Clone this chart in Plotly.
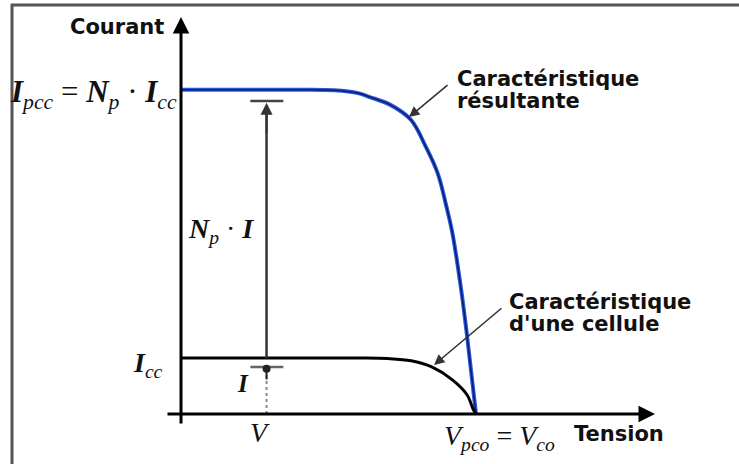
import plotly.graph_objects as go

# I-V characteristics: one cell versus Np cells in parallel (arbitrary units)
V_CO = 1.0          # open-circuit voltage (same for the array)
I_CC = 1.0          # short-circuit current of one cell
I_PCC = 5.79        # short-circuit current of the parallel array
V_OP = 0.29         # operating voltage V
I_OP = 0.84         # cell current I at V
NP_I = 5.59         # array current Np*I at V

# resulting characteristic (Np cells in parallel)
res_v = [0.0, 0.40, 0.52, 0.60, 0.64, 0.71, 0.78, 0.83, 0.87, 0.90, 0.92, 0.95, 0.97, 1.0]
res_i = [5.79, 5.79, 5.78, 5.73, 5.66, 5.52, 5.25, 4.77, 4.30, 3.70, 3.23, 2.21, 1.38, 0.0]

# single cell characteristic
cell_v = [0.0, 0.60, 0.70, 0.78, 0.85, 0.92, 0.97, 0.99, 1.0]
cell_i = [1.0, 1.0, 0.99, 0.95, 0.84, 0.61, 0.34, 0.09, 0.0]

W, H = 739, 464
X0, PXV = 181, 295      # pixel of V=0, pixels per volt unit
Y0, PXI = 414, 56       # pixel of I=0, pixels per current unit


def px(x):
    return x / W


def py(y):
    return 1 - y / H


SANS = "DejaVu Sans"
SERIF = "Liberation Serif"

fig = go.Figure()

fig.add_trace(go.Scatter(x=res_v, y=res_i, mode="lines", line_shape="spline",
                         line=dict(color="#2a5ae0", width=4), hoverinfo="skip"))
fig.add_trace(go.Scatter(x=res_v, y=res_i, mode="lines", line_shape="spline",
                         line=dict(color="#0c1c70", width=1.6), hoverinfo="skip"))
fig.add_trace(go.Scatter(x=cell_v, y=cell_i, mode="lines", line_shape="spline",
                         line=dict(color="black", width=3), hoverinfo="skip"))

shapes = [
    # open frame (left and top edges)
    dict(type="line", xref="paper", yref="paper", x0=px(12), x1=px(12), y0=py(4), y1=0,
         line=dict(color="#555", width=3)),
    dict(type="line", xref="paper", yref="paper", x0=px(11), x1=1, y0=py(5), y1=py(5),
         line=dict(color="#555", width=3)),
    # Np*I marker
    dict(type="line", xref="x", yref="y", x0=V_OP, x1=V_OP, y0=I_CC, y1=NP_I - 0.1,
         line=dict(color="#333", width=2.5)),
    dict(type="line", xref="x", yref="y", x0=V_OP - 0.055, x1=V_OP + 0.057, y0=NP_I, y1=NP_I,
         line=dict(color="#444", width=2.5)),
    # I marker
    dict(type="line", xref="x", yref="y", x0=V_OP, x1=V_OP, y0=0, y1=I_OP - 0.1,
         line=dict(color="#888", width=2, dash="dot")),
    dict(type="line", xref="x", yref="y", x0=V_OP - 0.055, x1=V_OP + 0.057, y0=I_OP, y1=I_OP,
         line=dict(color="#666", width=2.5)),
]

ann = []
# axes with arrowheads
ann.append(dict(x=0, y=(Y0 - 17) / PXI, ax=0, ay=(Y0 - 425) / PXI, xref="x", yref="y",
                axref="x", ayref="y", text="", showarrow=True, arrowhead=2,
                arrowsize=1.1, arrowwidth=3, arrowcolor="black", standoff=0))
ann.append(dict(x=(655 - X0) / PXV, y=0, ax=(166 - X0) / PXV, ay=0, xref="x", yref="y",
                axref="x", ayref="y", text="", showarrow=True, arrowhead=2,
                arrowsize=1.1, arrowwidth=3, arrowcolor="black", standoff=0))
# Np*I and I arrowheads
ann.append(dict(x=V_OP, y=NP_I - 0.03, ax=V_OP, ay=NP_I - 0.6, xref="x", yref="y",
                axref="x", ayref="y", text="", showarrow=True, arrowhead=2,
                arrowsize=1.2, arrowwidth=2, arrowcolor="#333", standoff=0))
ann.append(dict(x=V_OP, y=I_OP - 0.03, ax=V_OP, ay=I_OP - 0.25, xref="x", yref="y",
                axref="x", ayref="y", text="", showarrow=True, arrowhead=6,
                arrowsize=1.0, arrowwidth=2, arrowcolor="#222", standoff=0))
# callout arrows
ann.append(dict(x=(409 - X0) / PXV, y=(Y0 - 117) / PXI, ax=(449 - X0) / PXV,
                ay=(Y0 - 84) / PXI, xref="x", yref="y", axref="x", ayref="y", text="",
                showarrow=True, arrowhead=2, arrowsize=1.3, arrowwidth=1.6,
                arrowcolor="#333", standoff=0))
ann.append(dict(x=(434 - X0) / PXV, y=(Y0 - 365) / PXI, ax=(503 - X0) / PXV,
                ay=(Y0 - 307) / PXI, xref="x", yref="y", axref="x", ayref="y", text="",
                showarrow=True, arrowhead=2, arrowsize=1.3, arrowwidth=1.6,
                arrowcolor="#333", standoff=0))

bold = dict(family=SANS, size=21, color="#111")


def label(text, x, y, xanchor="left", font=bold):
    ann.append(dict(text=text, x=px(x), y=py(y), xref="paper", yref="paper",
                    xanchor=xanchor, yanchor="middle", showarrow=False, font=font))


label("<b>Courant</b>", 166, 27, "right")
label("<b>Tension</b>", 572, 434)
label("<b>Caractéristique</b>", 455, 79)
label("<b>résultante</b>", 455, 101)
label("<b>Caractéristique</b>", 507, 302)
label("<b>d'une cellule</b>", 507, 324)

math = dict(family=SERIF, size=28, color="#111")
label("<b><i>I</i></b><sub><i>pcc</i></sub> = <b><i>N</i></b><sub><i>p</i></sub> · "
      "<b><i>I</i></b><sub><i>cc</i></sub>", 179, 94, "right",
      dict(family=SERIF, size=31, color="#111"))
label("<b><i>N</i></b><sub><i>p</i></sub> · <b><i>I</i></b>", 186, 230, "left", math)
label("<b><i>I</i></b><sub><i>cc</i></sub>", 165, 364, "right", math)
label("<b><i>I</i></b>", 251, 383, "right", dict(family=SERIF, size=25, color="#111"))
label("<i>V</i>", 260, 432, "center", math)
label("<i>V</i><sub><i>pco</i></sub> = <i>V</i><sub><i>co</i></sub>", 442, 437, "left", math)

fig.update_layout(
    width=W, height=H, margin=dict(l=0, r=0, t=0, b=0),
    paper_bgcolor="white", plot_bgcolor="white", showlegend=False,
    xaxis=dict(visible=False, range=[-X0 / PXV, (W - X0) / PXV], fixedrange=True),
    yaxis=dict(visible=False, range=[-(H - Y0) / PXI, Y0 / PXI], fixedrange=True),
    shapes=shapes, annotations=ann,
)

fig.write_html("out.html")
